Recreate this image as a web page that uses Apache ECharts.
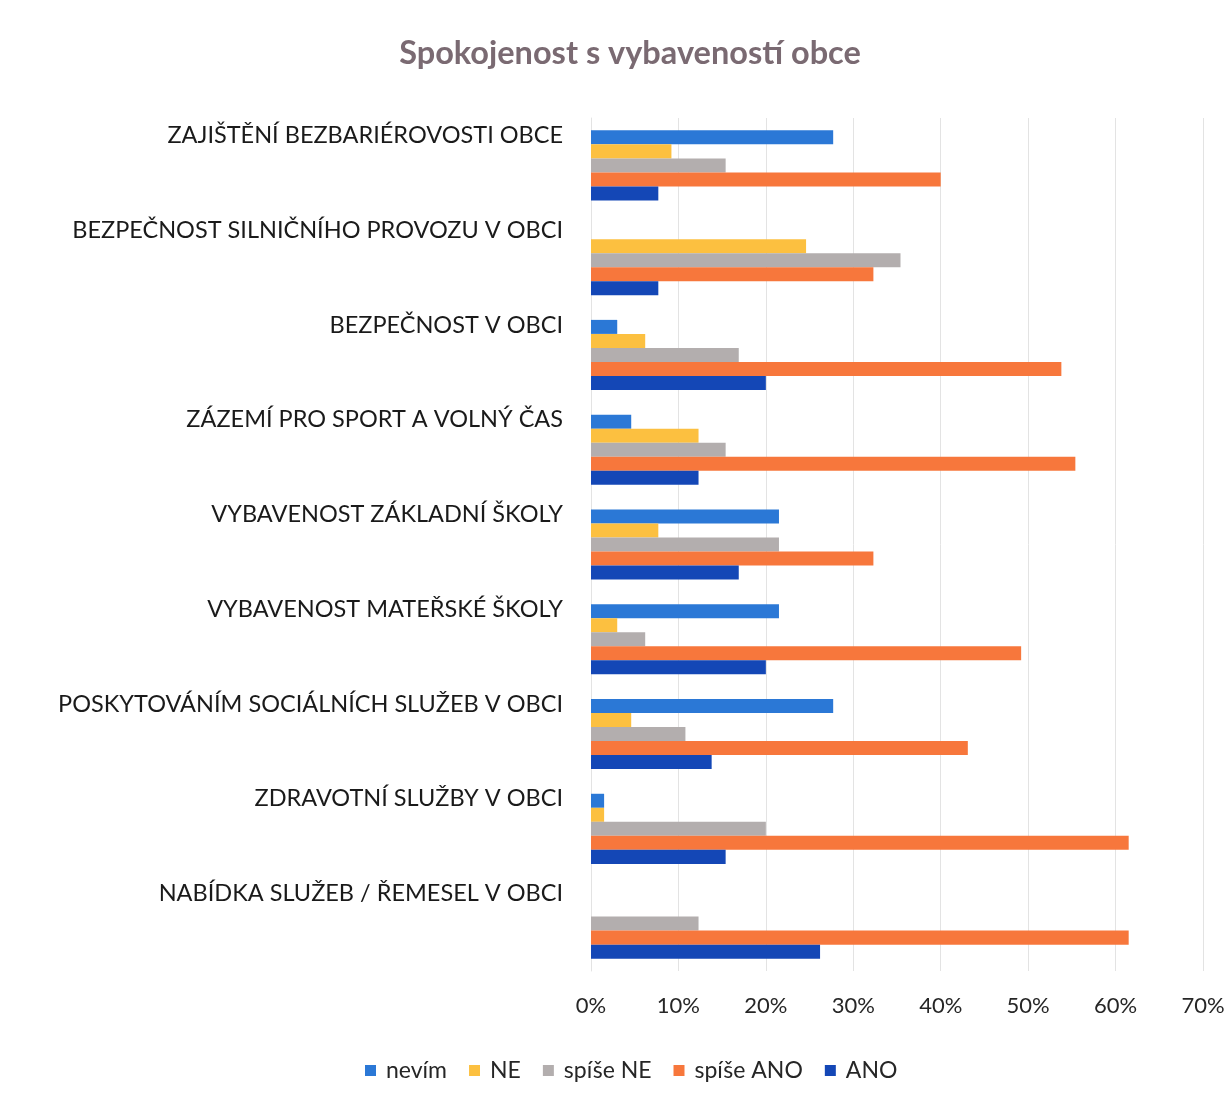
<!DOCTYPE html>
<html>
<head>
<meta charset="utf-8">
<script src="https://cdn.jsdelivr.net/npm/echarts@6/dist/echarts.min.js"></script>
<style>
  html, body { margin: 0; padding: 0; background: #fff; }
  #main { width: 1231px; height: 1101px; }
</style>
</head>
<body>
<div id="main"></div>
<script>
// kategorie shora dolu
var categories = [
  "ZAJIŠTĚNÍ BEZBARIÉROVOSTI OBCE",
  "BEZPEČNOST SILNIČNÍHO PROVOZU V OBCI",
  "BEZPEČNOST V OBCI",
  "ZÁZEMÍ PRO SPORT A VOLNÝ ČAS",
  "VYBAVENOST ZÁKLADNÍ ŠKOLY",
  "VYBAVENOST MATEŘSKÉ ŠKOLY",
  "POSKYTOVÁNÍM SOCIÁLNÍCH SLUŽEB V OBCI",
  "ZDRAVOTNÍ SLUŽBY V OBCI",
  "NABÍDKA SLUŽEB / ŘEMESEL V OBCI"
];

// hodnoty v %
var nevim    = [27.7, 0,    3.0,  4.6,  21.5, 21.5, 27.7, 1.5,  0];
var ne       = [9.2,  24.6, 6.2,  12.3, 7.7,  3.0,  4.6,  1.5,  0];
var spiseNe  = [15.4, 35.4, 16.9, 15.4, 21.5, 6.2,  10.8, 20.0, 12.3];
var spiseAno = [40.0, 32.3, 53.8, 55.4, 32.3, 49.2, 43.1, 61.5, 61.5];
var ano      = [7.7,  7.7,  20.0, 12.3, 16.9, 20.0, 13.8, 15.4, 26.2];

var seriesNames = ["nevím", "NE", "spíše NE", "spíše ANO", "ANO"];
var colors = ["#2b78d6", "#fcc040", "#b3aeae", "#f7773c", "#1447b6"];

var font = "Lato";

var myChart = echarts.init(document.getElementById("main"));

var seriesData = [nevim, ne, spiseNe, spiseAno, ano];
var series_list = [];
seriesData.forEach(function (d, i) {
  series_list.push({
    name: seriesNames[i],
    type: "bar",
    data: d,
    barGap: "0%",
    barCategoryGap: "26%",
    itemStyle: { color: colors[i] }
  });
});

myChart.setOption({
  animation: false,
  color: colors,
  title: {
    text: "Spokojenost s vybaveností obce",
    left: 625,
    textAlign: "center",
    top: 32,
    textStyle: {
      fontFamily: font,
      fontSize: 32.5,
      fontWeight: "bold",
      color: "#7a6a72"
    }
  },
  legend: {
    data: seriesNames,
    left: 360,
    top: 1054,
    icon: "rect",
    itemWidth: 11,
    itemHeight: 11,
    itemGap: 22,
    textStyle: {
      fontFamily: font,
      fontSize: 23,
      color: "#262626",
      padding: [0, 0, 0, 5]
    }
  },
  grid: {
    left: 591,
    right: 28,
    top: 118,
    bottom: 130
  },
  xAxis: {
    type: "value",
    min: 0,
    max: 70,
    interval: 10,
    axisLine: { show: false },
    axisTick: { show: false },
    splitLine: { lineStyle: { color: "#e3e3e3", width: 1 } },
    axisLabel: {
      formatter: "{value}%",
      fontFamily: font,
      fontSize: 22,
      color: "#262626",
      margin: 24
    }
  },
  yAxis: {
    type: "category",
    inverse: true,
    data: categories,
    axisLine: { lineStyle: { color: "#e3e3e3" } },
    axisTick: { show: false },
    axisLabel: {
      interval: 0,
      showMinLabel: true,
      showMaxLabel: true,
      hideOverlap: false,
      fontFamily: font,
      fontSize: 23.5,
      color: "#1a1a1a",
      margin: 28,
      lineHeight: 60,
      // popisek je nahore u skupiny, ne uprostred
      formatter: function (v) {
        return v + "\n ";
      }
    }
  },
  series: series_list
});
</script>
</body>
</html>
